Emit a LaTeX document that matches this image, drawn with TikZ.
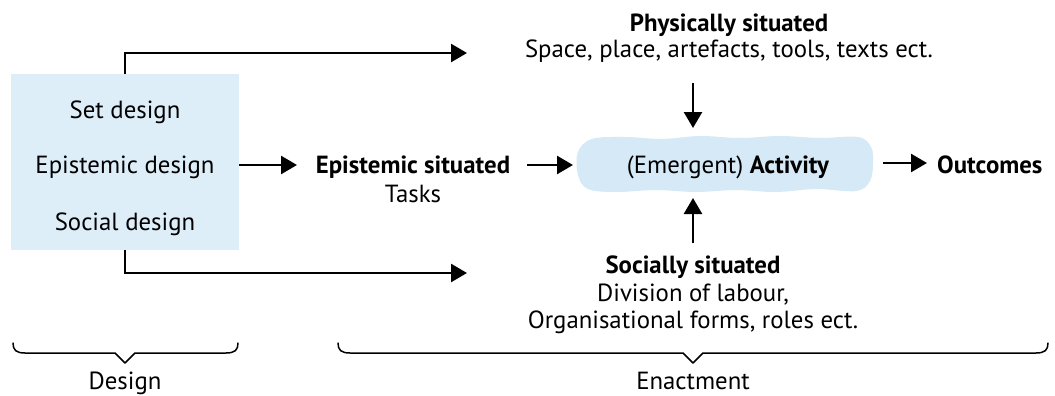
\documentclass[tikz,border=0pt]{standalone}
\usepackage{fontspec}
\setmainfont{PT Sans}
\usetikzlibrary{arrows.meta,calc}
\definecolor{boxblue}{HTML}{DDEEF8}
\definecolor{cloudblue}{HTML}{D6E9F6}
\begin{document}
\begin{tikzpicture}[x=1pt,y=-1pt,
  txt/.style={font=\fontsize{24.8}{28}\selectfont, inner sep=0pt, anchor=base},
  bold/.style={txt, font=\fontsize{24.8}{28}\selectfont\bfseries},
  arr/.style={line width=2.6pt, -{Triangle[length=16pt,width=18pt]}},
  brace/.style={line width=1.5pt, line join=round, line cap=round}]
\useasboundingbox[fill=white] (0,0) rectangle (1055,396);

% design block
\node[fill=boxblue, minimum width=228pt, minimum height=176pt, inner sep=0pt] (design) at (125,162) {};
\node[txt] (setd) at (125,118) {Set design};
\node[txt] (epid) at (125,173) {Epistemic design};
\node[txt] (socd) at (125,230) {Social design};

% emergent activity cloud
\node[minimum width=295pt, minimum height=57pt, inner sep=0pt] (act) at (725.5,163.5) {};
\fill[cloudblue] plot[smooth cycle, tension=0.6] coordinates {
  (592,139) (625,137) (662,139) (700,136) (740,138) (780,136) (820,138) (858,137)
  (871,147) (873,163) (870,181) (856,191) (816,189) (776,192) (736,190)
  (696,192) (656,190) (616,192) (588,189) (578,175) (578,152)};
\node[txt] (acttxt) at (728,173) {(Emergent) \textbf{Activity}};

% situated aspects
\node[bold] (esit) at (413,173) {Epistemic situated};
\node[txt] (tasks) at (413,202) {Tasks};
\node[bold] (phys) at (729,32) {Physically situated};
\node[txt] (physd) at (729,58) {Space, place, artefacts, tools, texts ect.};
\node[bold] (soc) at (693,273) {Socially situated};
\node[txt] (socd1) at (693,301) {Division of labour,};
\node[txt] (socd2) at (693,328) {Organisational forms, roles ect.};
\node[bold, anchor=base west] (out) at (937,173) {Outcomes};

% arrow end points
\coordinate (ptip) at (467,53);
\coordinate (stip) at (467,273);
\coordinate (etip) at (297,165);
\coordinate (a1s) at (527,165);
\coordinate (a1e) at (573,165);
\coordinate (a2s) at (883,163);
\coordinate (a2e) at (927,163);
\coordinate (dtop) at (693,83);
\coordinate (dtip) at (693,128);
\coordinate (ubot) at (693,243);
\coordinate (utip) at (693,198);

\draw[arr] (design.north) |- (ptip);
\draw[arr] (design.south) |- (stip);
\draw[arr] (design.east |- etip) -- (etip);
\draw[arr] (a1s) -- (a1e);
\draw[arr] (a2s) -- (a2e);
\draw[arr] (dtop) -- (dtip);
\draw[arr] (ubot) -- (utip);

% braces
\draw[brace] (13,343) .. controls (13,350) and (16,353) .. (25,353) -- (115,353)
  -- (125,363) -- (135,353) -- (226,353) .. controls (235,353) and (238,350) .. (238,343);
\draw[brace] (338,343) .. controls (338,350) and (341,353) .. (350,353) -- (683,353)
  -- (693,363) -- (703,353) -- (1036,353) .. controls (1045,353) and (1048,350) .. (1048,343);
\node[txt] (dlab) at (125,389) {Design};
\node[txt] (elab) at (693,389) {Enactment};
\end{tikzpicture}
\end{document}
